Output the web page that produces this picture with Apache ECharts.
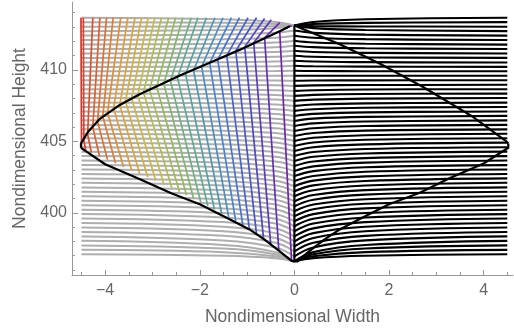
<!DOCTYPE html>
<html>
<head>
<meta charset="utf-8">
<script src="https://cdn.jsdelivr.net/npm/echarts@6/dist/echarts.min.js"></script>
<style>
html, body { margin: 0; padding: 0; background: #fff; }
#chart { width: 514px; height: 331px; }
</style>
</head>
<body>
<div id="chart"></div>
<script>
// streamline heights, read at x = 0, 0.4, 1.5 and 4.5 (right half; left half is the mirror)
var streamX = [0, 0.4, 1.5, 4.5];
var streamAt0 = [396.60, 396.60, 396.60, 396.60, 396.95, 397.30, 397.65, 398.00, 398.35, 398.71, 399.06, 399.41, 399.76, 400.11, 400.46, 400.81, 401.16, 401.51, 401.86, 402.22, 402.57, 402.92, 403.27, 403.62, 403.97, 404.32, 404.67, 405.02, 405.37, 405.73, 406.08, 406.43, 406.78, 407.13, 407.48, 407.83, 408.18, 408.53, 408.88, 409.24, 409.59, 409.94, 410.29, 410.64, 410.99, 411.34, 411.69, 412.04, 412.39, 412.75, 413.10, 413.10, 413.10, 413.10];
var streamAt04 = [396.83, 396.96, 397.10, 397.25, 397.58, 397.91, 398.24, 398.58, 398.91, 399.25, 399.58, 399.91, 400.25, 400.58, 400.91, 401.25, 401.58, 401.92, 402.25, 402.58, 402.92, 403.25, 403.59, 403.92, 404.25, 404.59, 404.92, 405.25, 405.58, 405.92, 406.26, 406.59, 406.92, 407.25, 407.58, 407.92, 408.25, 408.58, 408.92, 409.26, 409.59, 409.92, 410.25, 410.59, 410.92, 411.25, 411.59, 411.92, 412.25, 412.59, 412.92, 413.06, 413.21, 413.35];
var streamAt15 = [397.00, 397.25, 397.50, 397.75, 398.07, 398.39, 398.71, 399.03, 399.35, 399.67, 399.99, 400.31, 400.63, 400.95, 401.27, 401.59, 401.91, 402.23, 402.55, 402.87, 403.19, 403.51, 403.83, 404.15, 404.47, 404.79, 405.11, 405.43, 405.75, 406.07, 406.39, 406.71, 407.03, 407.35, 407.66, 407.99, 408.31, 408.63, 408.94, 409.27, 409.59, 409.91, 410.23, 410.54, 410.87, 411.19, 411.51, 411.83, 412.15, 412.47, 412.79, 413.04, 413.29, 413.54];
var streamAt45 = [397.10, 397.41, 397.72, 398.04, 398.35, 398.66, 398.97, 399.29, 399.60, 399.91, 400.22, 400.53, 400.85, 401.16, 401.47, 401.78, 402.10, 402.41, 402.72, 403.03, 403.34, 403.66, 403.97, 404.28, 404.59, 404.91, 405.22, 405.53, 405.84, 406.15, 406.47, 406.78, 407.09, 407.40, 407.71, 408.03, 408.34, 408.65, 408.96, 409.28, 409.59, 409.90, 410.21, 410.52, 410.84, 411.15, 411.46, 411.77, 412.09, 412.40, 412.71, 413.02, 413.34, 413.65];

// coloured characteristics: top end, kink on the upper boundary, foot on the lower boundary
var fanTopX = [-4.51, -4.46, -4.26, -4.11, -3.97, -3.83, -3.67, -3.52, -3.37, -3.23, -3.09, -2.95, -2.81, -2.66, -2.51, -2.36, -2.18, -2.04, -1.86, -1.68, -1.51, -1.33, -1.16, -0.98, -0.80, -0.63, -0.49, -0.31, -0.06];
var fanTopY = [413.65, 413.65, 413.65, 413.65, 413.65, 413.65, 413.65, 413.65, 413.65, 413.65, 413.65, 413.65, 413.65, 413.65, 413.65, 413.65, 413.65, 413.65, 413.65, 413.65, 413.65, 413.65, 413.65, 413.65, 413.65, 413.6, 413.5, 413.3, 413.1];
var fanKinkX = [-4.50, -4.45, -4.37, -4.26, -4.16, -4.05, -3.95, -3.82, -3.69, -3.57, -3.44, -3.31, -3.19, -3.06, -2.91, -2.76, -2.62, -2.47, -2.30, -2.13, -1.96, -1.79, -1.62, -1.43, -1.24, -1.05, -0.86, -0.63, -0.31];
var fanKinkY = [404.85, 405.09, 405.50, 406.00, 406.40, 406.75, 407.00, 407.30, 407.55, 407.80, 408.02, 408.24, 408.43, 408.62, 408.82, 409.03, 409.24, 409.45, 409.70, 409.96, 410.22, 410.47, 410.71, 411.00, 411.32, 411.61, 411.90, 412.24, 412.70];
var fanBaseX = [-4.50, -4.41, -4.29, -4.12, -3.95, -3.78, -3.61, -3.44, -3.27, -3.10, -2.93, -2.76, -2.59, -2.43, -2.28, -2.13, -1.98, -1.83, -1.69, -1.54, -1.39, -1.24, -1.09, -0.95, -0.80, -0.65, -0.50, -0.33, -0.06];
var fanBaseY = [404.51, 404.38, 404.21, 403.97, 403.72, 403.47, 403.22, 402.97, 402.74, 402.49, 402.24, 401.99, 401.74, 401.47, 401.23, 400.99, 400.75, 400.49, 400.23, 399.97, 399.71, 399.42, 399.13, 398.84, 398.49, 398.13, 397.78, 397.40, 396.64];

// black boundaries
var upperLeftX = [-4.51, -4.51, -4.36, -4.12, -3.69, -3.27, -2.85, -2.42, -2.00, -1.58, -1.16, -0.73, -0.31, -0.10];
var upperLeftY = [404.55, 404.85, 405.67, 406.55, 407.55, 408.30, 408.95, 409.60, 410.20, 410.80, 411.40, 412.05, 412.70, 413.05];
var lowerLeftX = [-4.51, -4.00, -3.30, -2.59, -2.00, -1.37, -0.95, -0.63, -0.31, -0.06, 0.00];
var lowerLeftY = [404.55, 403.40, 402.40, 401.35, 400.60, 399.55, 398.84, 398.13, 397.30, 396.64, 396.60];
var upperRightX = [0.00, 0.96, 1.80, 2.72, 3.78, 4.48, 4.52];
var upperRightY = [413.10, 411.80, 410.45, 408.80, 406.70, 405.00, 404.85];
var lowerRightX = [0.04, 0.31, 0.63, 0.96, 1.37, 2.00, 2.65, 3.30, 4.00, 4.52, 4.52];
var lowerRightY = [396.55, 397.30, 398.13, 398.84, 399.55, 400.60, 401.40, 402.45, 403.45, 404.55, 404.85];
var centreLineY = [396.55, 413.10];

var xMajor = [-4, -2, 0, 2, 4];
var xMinor = [-4.5, -3.5, -3, -2.5, -1.5, -1, -0.5, 0.5, 1, 1.5, 2.5, 3, 3.5, 4.5];
var yMajor = [400, 405, 410];
var yMinor = [396, 397, 398, 399, 401, 402, 403, 404, 406, 407, 408, 409, 411, 412, 413, 414];

var rainbowStops = ['#d8322a', '#e2662c', '#e29c32', '#cbbd3e', '#92bc58', '#53a99a', '#4684d2', '#4a4cc8', '#6f24a6'];

function mix(c1, c2, t) {
	var a = parseInt(c1.slice(1), 16), b = parseInt(c2.slice(1), 16);
	var r = Math.round(((a >> 16) & 255) * (1 - t) + ((b >> 16) & 255) * t);
	var g = Math.round(((a >> 8) & 255) * (1 - t) + ((b >> 8) & 255) * t);
	var bl = Math.round((a & 255) * (1 - t) + (b & 255) * t);
	return 'rgb(' + r + ',' + g + ',' + bl + ')';
}

function rainbow(f) {
	var p = f * (rainbowStops.length - 1);
	var i = Math.min(Math.floor(p), rainbowStops.length - 2);
	return mix(rainbowStops[i], rainbowStops[i + 1], p - i);
}

function pairs(xs, ys) {
	var out = [];
	for (var i = 0; i < xs.length; i++) out.push([xs[i], ys[i]]);
	return out;
}

var series = [];
var cols = [streamAt0, streamAt04, streamAt15, streamAt45];

// gray streamlines on the left, black on the right
for (var i = 0; i < streamAt0.length; i++) {
	var left = [], right = [];
	for (var j = 0; j < streamX.length; j++) {
		right.push([streamX[j], cols[j][i]]);
		left.unshift([-streamX[j], cols[j][i]]);
	}
	series.push({ type: 'line', data: left, smooth: 0.4, showSymbol: false, silent: true, z: 1,
		lineStyle: { color: '#aeaeae', width: 2 } });
	series.push({ type: 'line', data: right, smooth: 0.4, showSymbol: false, silent: true, z: 3,
		lineStyle: { color: '#000', width: 2.1 } });
}

for (var k = 0; k < fanTopX.length; k++) {
	series.push({
		type: 'line',
		data: [[fanTopX[k], fanTopY[k]], [fanKinkX[k], fanKinkY[k]], [fanBaseX[k], fanBaseY[k]]],
		showSymbol: false, silent: true, z: 2,
		lineStyle: { color: rainbow(k / (fanTopX.length - 1)), width: 1.7 }
	});
}

var bounds = [pairs(upperLeftX, upperLeftY), pairs(lowerLeftX, lowerLeftY),
	pairs(upperRightX, upperRightY), pairs(lowerRightX, lowerRightY), [[0, centreLineY[0]], [0, centreLineY[1]]]];
bounds.forEach(function(b) {
	series.push({ type: 'line', data: b, showSymbol: false, silent: true, z: 4,
		lineStyle: { color: '#000', width: 2.2 } });
});

var axisGray = '#999';
var labelGray = '#666';
var fontName = 'Liberation Sans';
var fmt = function(v) { return String(v).replace('-', '\u2212'); };

var chart = echarts.init(document.getElementById('chart'));
chart.setOption({
	animation: false,
	grid: { left: 72, right: 1, top: 2, bottom: 55 },
	xAxis: [{
		type: 'value', min: -4.7, max: 4.62,
		name: 'Nondimensional Width', nameLocation: 'middle', nameGap: 33,
		nameTextStyle: { color: labelGray, fontSize: 17.5, fontFamily: fontName },
		axisLine: { onZero: false, lineStyle: { color: axisGray, width: 1 } },
		axisTick: { inside: true, length: 5, customValues: xMajor, lineStyle: { color: axisGray } },
		axisLabel: { customValues: xMajor, formatter: fmt, color: labelGray, fontSize: 16, margin: 8, fontFamily: fontName },
		splitLine: { show: false }
	}, {
		type: 'value', min: -4.7, max: 4.62, position: 'bottom',
		axisLine: { show: false, onZero: false },
		axisTick: { inside: true, length: 3, customValues: xMinor, lineStyle: { color: axisGray } },
		axisLabel: { show: false }, splitLine: { show: false }
	}],
	yAxis: [{
		type: 'value', min: 395.65, max: 414.75,
		name: 'Nondimensional Height', nameLocation: 'middle', nameGap: 33,
		nameTextStyle: { color: labelGray, fontSize: 17.5, fontFamily: fontName },
		axisLine: { show: true, onZero: false, lineStyle: { color: axisGray, width: 1 } },
		axisTick: { show: true, inside: true, length: 6, customValues: yMajor, lineStyle: { color: axisGray } },
		axisLabel: { customValues: yMajor, color: labelGray, fontSize: 16, margin: 5, fontFamily: fontName },
		splitLine: { show: false }
	}, {
		type: 'value', min: 395.65, max: 414.75, position: 'left',
		axisLine: { show: false, onZero: false },
		axisTick: { show: true, inside: true, length: 3, customValues: yMinor, lineStyle: { color: axisGray } },
		axisLabel: { show: false }, splitLine: { show: false }
	}],
	series: series
});
</script>
</body>
</html>
